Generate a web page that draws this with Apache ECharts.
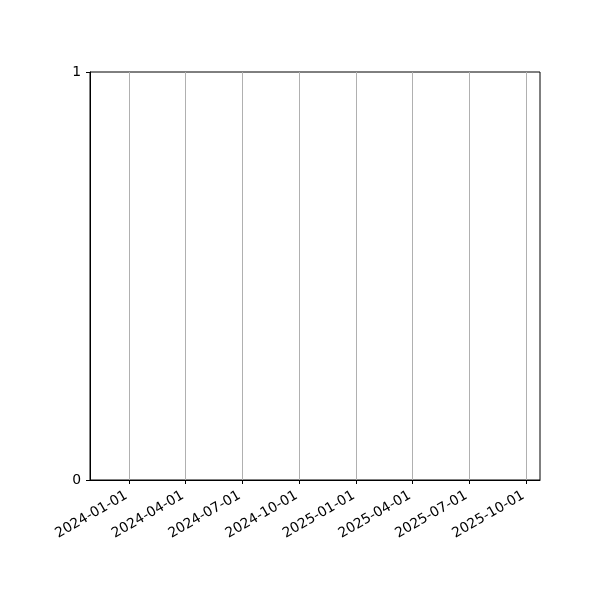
<!DOCTYPE html>
<html>
<head>
<meta charset="utf-8">
<script src="https://cdn.jsdelivr.net/npm/echarts@6.0.0/dist/echarts.min.js"></script>
<style>
html,body{margin:0;padding:0;background:#fff;}
#chart{width:600px;height:600px;}
</style>
</head>
<body>
<div id="chart"></div>
<script>
// Data
var tickDates = ['2024-01-01','2024-04-01','2024-07-01','2024-10-01','2025-01-01','2025-04-01','2025-07-01','2025-10-01'];
var xRange = ['2023-10-30T05:00:00Z','2025-10-23T12:00:00Z'];
var yTicks = [0, 1];
var seriesValues = [];

function ts(s){ return new Date(s.length === 10 ? s + 'T00:00:00Z' : s).getTime(); }
function pad(n){ return (n < 10 ? '0' : '') + n; }
function fmt(v){ var d = new Date(v); return d.getUTCFullYear() + '-' + pad(d.getUTCMonth()+1) + '-' + pad(d.getUTCDate()); }

var tickVals = tickDates.map(ts);
var font = 'DejaVu Sans';

var chart = echarts.init(document.getElementById('chart'), null, {renderer:'canvas'});
chart.setOption({
  animation: false,
  backgroundColor: '#fff',
  grid: {left: 90, right: 60, top: 72, bottom: 120, show: true, borderColor: '#000', borderWidth: 1, backgroundColor: 'transparent'},
  xAxis: {
    type: 'value',
    min: ts(xRange[0]),
    max: ts(xRange[1]),
    axisLine: {show: true, onZero: false, lineStyle: {color: '#000', width: 1}},
    axisTick: {show: true, length: 4, lineStyle: {color: '#000', width: 1}, customValues: tickVals},
    splitLine: {show: true, lineStyle: {color: '#b0b0b0', width: 1}},
    axisLabel: {
      customValues: tickVals,
      rotate: 30,
      margin: 13,
      padding: [0, 3, 0, 0],
      color: '#000',
      fontFamily: font,
      fontSize: 13.9,
      formatter: function(v){ return fmt(v); }
    }
  },
  yAxis: {
    type: 'value',
    min: yTicks[0],
    max: yTicks[yTicks.length-1],
    interval: 1,
    axisLine: {show: true, lineStyle: {color: '#000', width: 1}},
    axisTick: {show: true, length: 4, lineStyle: {color: '#000', width: 1}},
    splitLine: {show: false},
    axisLabel: {margin: 9, color: '#000', fontFamily: font, fontSize: 13.9}
  },
  series: [{type: 'line', data: seriesValues, showSymbol: false}]
});
</script>
</body>
</html>
